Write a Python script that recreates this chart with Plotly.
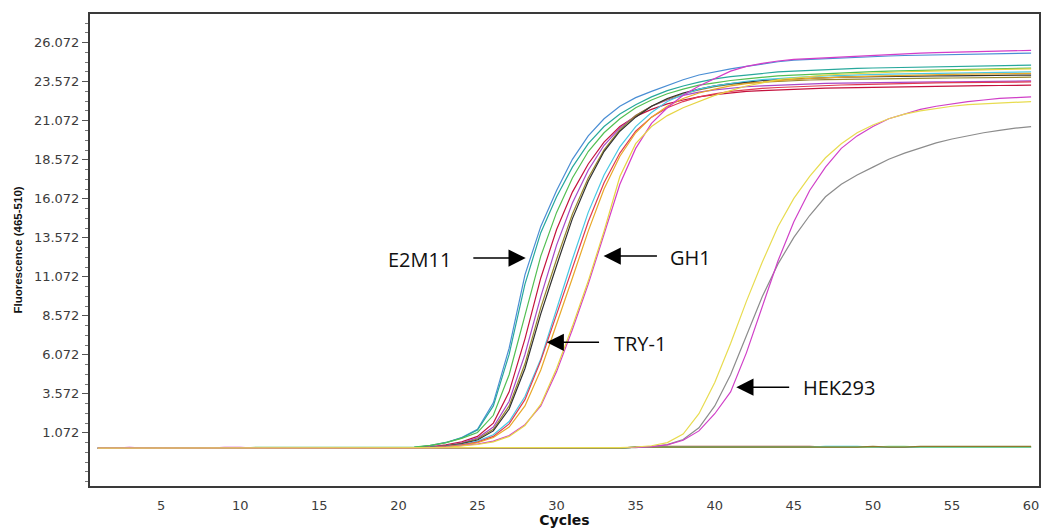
import plotly.graph_objects as go

# Amplification data: fluorescence (465-510) per cycle, cycles 1..60
cycles = list(range(1, 61))

y_tick_values = [1.072, 3.572, 6.072, 8.572, 11.072, 13.572, 16.072, 18.572, 21.072, 23.572, 26.072]
y_tick_labels = ["1.072", "3.572", "6.072", "8.572", "11.072", "13.572", "16.072", "18.572", "21.072", "23.572", "26.072"]
x_tick_values = [5, 10, 15, 20, 25, 30, 35, 40, 45, 50, 55, 60]

# no-template control wells (flat)
ntc_red = [0.1, 0.1, 0.1, 0.1, 0.1, 0.1, 0.1, 0.1, 0.1, 0.1,
           0.1, 0.1, 0.1, 0.1, 0.1, 0.1, 0.1, 0.1, 0.1, 0.1,
           0.1, 0.1, 0.1, 0.1, 0.1, 0.1, 0.1, 0.1, 0.1, 0.1,
           0.1, 0.1, 0.1, 0.1, 0.16, 0.16, 0.21, 0.21, 0.21, 0.21,
           0.21, 0.21, 0.21, 0.21, 0.21, 0.21, 0.16, 0.16, 0.16, 0.16,
           0.16, 0.16, 0.16, 0.16, 0.16, 0.16, 0.16, 0.16, 0.16, 0.16]
ntc_cyan = [0.1, 0.1, 0.1, 0.1, 0.1, 0.1, 0.1, 0.1, 0.1, 0.1,
            0.1, 0.1, 0.1, 0.1, 0.1, 0.1, 0.1, 0.1, 0.1, 0.1,
            0.1, 0.1, 0.1, 0.1, 0.1, 0.1, 0.1, 0.1, 0.1, 0.1,
            0.1, 0.1, 0.1, 0.1, 0.16, 0.16, 0.16, 0.16, 0.16, 0.16,
            0.16, 0.16, 0.16, 0.16, 0.16, 0.16, 0.21, 0.21, 0.21, 0.16,
            0.16, 0.16, 0.16, 0.16, 0.16, 0.16, 0.16, 0.16, 0.16, 0.16]
ntc_lightgreen = [0.1, 0.1, 0.1, 0.1, 0.1, 0.1, 0.1, 0.1, 0.1, 0.1,
                  0.1, 0.1, 0.1, 0.1, 0.1, 0.1, 0.1, 0.1, 0.1, 0.1,
                  0.1, 0.1, 0.1, 0.1, 0.1, 0.1, 0.1, 0.1, 0.1, 0.1,
                  0.1, 0.1, 0.1, 0.1, 0.16, 0.16, 0.16, 0.16, 0.16, 0.16,
                  0.16, 0.16, 0.16, 0.16, 0.16, 0.16, 0.16, 0.16, 0.16, 0.16,
                  0.21, 0.21, 0.16, 0.16, 0.16, 0.16, 0.16, 0.16, 0.16, 0.16]
ntc_olive = [0.1, 0.1, 0.1, 0.1, 0.1, 0.1, 0.1, 0.1, 0.1, 0.1,
             0.1, 0.1, 0.1, 0.1, 0.1, 0.1, 0.1, 0.1, 0.1, 0.1,
             0.1, 0.1, 0.1, 0.1, 0.1, 0.1, 0.1, 0.1, 0.1, 0.1,
             0.1, 0.1, 0.1, 0.1, 0.16, 0.16, 0.16, 0.16, 0.16, 0.16,
             0.16, 0.16, 0.16, 0.16, 0.16, 0.16, 0.16, 0.16, 0.16, 0.21,
             0.16, 0.16, 0.21, 0.21, 0.21, 0.21, 0.21, 0.21, 0.21, 0.21]

# amplifying samples
e2m11_blue = [0.1, 0.1, 0.1, 0.1, 0.1, 0.1, 0.1, 0.1, 0.1, 0.1,
              0.1, 0.1, 0.1, 0.1, 0.1, 0.1, 0.1, 0.1, 0.1, 0.1,
              0.14, 0.26, 0.46, 0.78, 1.3, 3.0, 6.5, 11.2, 14.3, 16.6,
              18.6, 20.1, 21.2, 22.0, 22.55, 22.95, 23.35, 23.7, 24.0, 24.2,
              24.4, 24.55, 24.7, 24.85, 24.95, 25.0, 25.05, 25.1, 25.15, 25.2,
              25.22, 25.25, 25.27, 25.3, 25.32, 25.34, 25.35, 25.37, 25.38, 25.4]
e2m11_teal = [0.1, 0.1, 0.1, 0.1, 0.1, 0.1, 0.1, 0.1, 0.1, 0.1,
              0.1, 0.1, 0.1, 0.1, 0.1, 0.1, 0.1, 0.1, 0.1, 0.1,
              0.14, 0.25, 0.44, 0.75, 1.25, 2.8, 6.1, 10.6, 13.9, 16.2,
              18.1, 19.6, 20.7, 21.5, 22.1, 22.6, 23.0, 23.3, 23.55, 23.75,
              23.9, 24.0, 24.1, 24.2, 24.25, 24.3, 24.35, 24.4, 24.42, 24.45,
              24.47, 24.5, 24.52, 24.54, 24.56, 24.58, 24.6, 24.61, 24.62, 24.63]
s_green = [0.1, 0.1, 0.1, 0.1, 0.1, 0.1, 0.1, 0.1, 0.1, 0.1,
           0.15, 0.15, 0.15, 0.15, 0.15, 0.15, 0.15, 0.15, 0.15, 0.15,
           0.16, 0.27, 0.45, 0.72, 1.1, 2.2, 4.8, 8.6, 12.4, 15.2,
           17.4, 19.1, 20.3, 21.2, 21.9, 22.4, 22.8, 23.1, 23.35, 23.5,
           23.65, 23.75, 23.85, 23.95, 24.0, 24.05, 24.1, 24.15, 24.2, 24.22,
           24.25, 24.28, 24.3, 24.32, 24.34, 24.36, 24.38, 24.4, 24.42, 24.44]
s_crimson = [0.1, 0.1, 0.1, 0.1, 0.1, 0.1, 0.1, 0.1, 0.1, 0.1,
             0.1, 0.1, 0.1, 0.1, 0.1, 0.1, 0.1, 0.1, 0.1, 0.1,
             0.12, 0.18, 0.3, 0.5, 0.85, 1.7, 3.7, 7.1, 11.0, 14.1,
             16.5, 18.3, 19.7, 20.7, 21.35, 21.8, 22.15, 22.4, 22.6, 22.75,
             22.85, 22.95, 23.0, 23.05, 23.1, 23.13, 23.16, 23.18, 23.2, 23.22,
             23.24, 23.26, 23.27, 23.28, 23.3, 23.31, 23.32, 23.33, 23.34, 23.35]
s_purple = [0.1, 0.1, 0.1, 0.1, 0.1, 0.1, 0.1, 0.1, 0.1, 0.1,
            0.1, 0.1, 0.1, 0.1, 0.1, 0.1, 0.1, 0.1, 0.1, 0.1,
            0.11, 0.16, 0.26, 0.43, 0.75, 1.45, 3.1, 6.1, 9.8, 13.1,
            15.8, 17.9, 19.5, 20.6, 21.4, 22.0, 22.4, 22.7, 22.9, 23.05,
            23.15, 23.25, 23.3, 23.35, 23.4, 23.43, 23.46, 23.48, 23.5, 23.52,
            23.53, 23.54, 23.55, 23.56, 23.57, 23.58, 23.59, 23.6, 23.61, 23.62]
s_olive = [0.1, 0.1, 0.1, 0.1, 0.1, 0.1, 0.1, 0.1, 0.1, 0.1,
           0.1, 0.1, 0.1, 0.1, 0.1, 0.1, 0.1, 0.1, 0.1, 0.1,
           0.11, 0.15, 0.24, 0.4, 0.68, 1.3, 2.8, 5.5, 9.1, 12.2,
           15.1, 17.4, 19.2, 20.5, 21.4, 22.0, 22.45, 22.8, 23.05, 23.25,
           23.4, 23.5, 23.55, 23.6, 23.65, 23.68, 23.7, 23.72, 23.74, 23.76,
           23.77, 23.78, 23.79, 23.8, 23.81, 23.82, 23.83, 23.84, 23.85, 23.86]
s_dark = [0.1, 0.1, 0.1, 0.1, 0.1, 0.1, 0.1, 0.1, 0.1, 0.1,
          0.1, 0.1, 0.1, 0.1, 0.1, 0.1, 0.1, 0.1, 0.1, 0.1,
          0.11, 0.15, 0.23, 0.37, 0.62, 1.2, 2.6, 5.2, 8.7, 11.8,
          14.8, 17.2, 19.1, 20.4, 21.3, 22.0, 22.5, 22.85, 23.1, 23.3,
          23.45, 23.55, 23.65, 23.7, 23.75, 23.8, 23.83, 23.86, 23.88, 23.9,
          23.91, 23.92, 23.93, 23.94, 23.95, 23.96, 23.97, 23.98, 23.99, 24.0]
try1_cyan = [0.1, 0.1, 0.1, 0.1, 0.1, 0.1, 0.1, 0.1, 0.1, 0.1,
             0.1, 0.1, 0.1, 0.1, 0.1, 0.1, 0.1, 0.1, 0.1, 0.1,
             0.11, 0.14, 0.21, 0.33, 0.55, 0.95, 1.8, 3.4, 5.8, 9.0,
             12.2, 15.2, 17.6, 19.4, 20.7, 21.6, 22.3, 22.75, 23.1, 23.3,
             23.45, 23.6, 23.7, 23.78, 23.85, 23.9, 23.94, 23.98, 24.01, 24.04,
             24.06, 24.08, 24.1, 24.12, 24.14, 24.15, 24.16, 24.17, 24.18, 24.2]
s_red = [0.1, 0.1, 0.1, 0.1, 0.1, 0.1, 0.1, 0.1, 0.1, 0.1,
         0.1, 0.1, 0.1, 0.1, 0.1, 0.1, 0.1, 0.1, 0.1, 0.1,
         0.1, 0.13, 0.19, 0.3, 0.48, 0.85, 1.65, 3.2, 5.7, 8.7,
         11.7, 14.6, 17.1, 19.0, 20.4, 21.3, 21.9, 22.3, 22.6, 22.8,
         22.95, 23.05, 23.15, 23.2, 23.25, 23.3, 23.33, 23.36, 23.39, 23.42,
         23.44, 23.46, 23.48, 23.5, 23.51, 23.52, 23.53, 23.54, 23.55, 23.56]
s_orange = [0.1, 0.1, 0.1, 0.1, 0.1, 0.1, 0.1, 0.1, 0.1, 0.1,
            0.1, 0.1, 0.1, 0.1, 0.1, 0.1, 0.1, 0.1, 0.1, 0.1,
            0.1, 0.12, 0.18, 0.28, 0.44, 0.78, 1.45, 2.8, 5.1, 8.0,
            11.0, 14.0, 16.7, 18.8, 20.3, 21.3, 22.0, 22.5, 22.85, 23.1,
            23.3, 23.45, 23.55, 23.65, 23.72, 23.78, 23.83, 23.87, 23.9, 23.93,
            23.96, 23.98, 24.0, 24.02, 24.04, 24.06, 24.07, 24.08, 24.09, 24.1]
gh1_magenta = [0.1, 0.1, 0.15, 0.1, 0.1, 0.1, 0.1, 0.1, 0.15, 0.15,
               0.1, 0.1, 0.1, 0.1, 0.1, 0.1, 0.1, 0.1, 0.1, 0.1,
               0.1, 0.12, 0.16, 0.24, 0.36, 0.55, 0.9, 1.6, 2.8, 5.0,
               7.7, 10.6, 13.8, 17.0, 19.3, 20.9, 21.9, 22.7, 23.3, 23.8,
               24.25, 24.55, 24.75, 24.9, 25.0, 25.05, 25.1, 25.15, 25.2, 25.28,
               25.32, 25.36, 25.4, 25.43, 25.46, 25.49, 25.52, 25.54, 25.56, 25.58]
gh1_yellow = [0.1, 0.1, 0.1, 0.1, 0.1, 0.1, 0.1, 0.1, 0.1, 0.1,
              0.1, 0.1, 0.1, 0.1, 0.1, 0.1, 0.1, 0.1, 0.1, 0.1,
              0.1, 0.11, 0.15, 0.22, 0.33, 0.5, 0.85, 1.55, 2.9, 5.2,
              7.9, 10.8, 14.0, 17.5, 19.6, 20.7, 21.4, 21.9, 22.3, 22.7,
              23.0, 23.3, 23.5, 23.7, 23.8, 23.9, 24.0, 24.05, 24.1, 24.15,
              24.18, 24.21, 24.24, 24.27, 24.3, 24.32, 24.34, 24.36, 24.38, 24.4]
hek_gray = [0.1, 0.1, 0.1, 0.1, 0.1, 0.1, 0.1, 0.1, 0.1, 0.1,
            0.1, 0.1, 0.1, 0.1, 0.1, 0.1, 0.1, 0.1, 0.1, 0.1,
            0.1, 0.1, 0.1, 0.1, 0.1, 0.1, 0.1, 0.1, 0.1, 0.1,
            0.1, 0.1, 0.1, 0.11, 0.13, 0.2, 0.32, 0.65, 1.4, 2.8,
            4.8, 7.3, 9.8, 11.9, 13.6, 15.0, 16.2, 17.0, 17.6, 18.1,
            18.6, 19.0, 19.35, 19.65, 19.9, 20.1, 20.3, 20.45, 20.6, 20.7]
hek_magenta = [0.1, 0.1, 0.1, 0.1, 0.1, 0.1, 0.1, 0.1, 0.1, 0.1,
               0.1, 0.1, 0.1, 0.1, 0.1, 0.1, 0.1, 0.1, 0.1, 0.1,
               0.1, 0.1, 0.1, 0.1, 0.1, 0.1, 0.1, 0.1, 0.1, 0.1,
               0.1, 0.1, 0.1, 0.11, 0.14, 0.19, 0.3, 0.6, 1.2, 2.3,
               3.7, 6.2, 9.2, 12.1, 14.6, 16.6, 18.1, 19.3, 20.1, 20.7,
               21.2, 21.5, 21.8, 22.0, 22.15, 22.3, 22.4, 22.5, 22.55, 22.6]
hek_yellow = [0.1, 0.1, 0.1, 0.1, 0.1, 0.1, 0.1, 0.1, 0.1, 0.1,
              0.1, 0.1, 0.1, 0.1, 0.1, 0.1, 0.1, 0.1, 0.1, 0.1,
              0.1, 0.1, 0.1, 0.1, 0.1, 0.1, 0.1, 0.1, 0.1, 0.1,
              0.1, 0.1, 0.1, 0.13, 0.17, 0.25, 0.45, 1.0, 2.3, 4.3,
              6.8, 9.5, 12.0, 14.3, 16.1, 17.5, 18.7, 19.6, 20.3, 20.8,
              21.2, 21.5, 21.7, 21.85, 22.0, 22.1, 22.15, 22.2, 22.25, 22.3]

# drawing order: controls underneath, samples on top
traces = [
    (ntc_red, "#a8432e"), (ntc_cyan, "#3cc4d2"), (ntc_lightgreen, "#7ad88e"), (ntc_olive, "#8c7a2c"),
    (e2m11_blue, "#4a8ed4"), (e2m11_teal, "#27a89c"), (s_crimson, "#c4123e"),
    (s_purple, "#a848c8"), (s_olive, "#98882e"), (s_dark, "#303030"), (try1_cyan, "#48c8e4"),
    (s_red, "#e03a52"), (s_orange, "#e8a828"), (s_green, "#52bf52"),
    (gh1_magenta, "#d43cc8"), (gh1_yellow, "#e6d444"),
    (hek_gray, "#8c8c8c"), (hek_magenta, "#d040c8"), (hek_yellow, "#e8dc50"),
]

fig = go.Figure()
for values, color in traces:
    fig.add_trace(go.Scatter(
        x=cycles, y=values, mode="lines",
        line=dict(color=color, width=1.2, shape="linear"),
        hoverinfo="skip", showlegend=False,
    ))

# labels with arrows pointing at the curve groups
labels = [
    # text, text x, text y, arrow tail x, arrow tip x, arrow y
    ("E2M11", 21.36, 12.2, 24.64, 28.05, 12.27),
    ("GH1", 38.45, 12.33, 36.44, 32.97, 12.4),
    ("TRY-1", 35.3, 6.82, 32.78, 29.37, 6.88),
    ("HEK293", 47.85, 4.0, 44.8, 41.36, 4.0),
]
for text, tx, ty, tail_x, tip_x, ay in labels:
    fig.add_annotation(
        x=tip_x, y=ay, ax=tail_x, ay=ay, xref="x", yref="y", axref="x", ayref="y",
        text="", showarrow=True, arrowhead=2, arrowsize=2.3, arrowwidth=1.5,
        arrowcolor="#000000", standoff=0, startstandoff=0,
    )
    fig.add_annotation(
        x=tx, y=ty, xref="x", yref="y", text=text, showarrow=False,
        font=dict(family="Open Sans, Lato, sans-serif", size=20, color="#111111"),
    )

axis_font = dict(family="DejaVu Sans, Liberation Sans, Arial, sans-serif", size=13, color="#3c3c3c")

fig.update_xaxes(
    range=[0.5, 60.5], tickmode="array", tickvals=x_tick_values,
    ticks="", showgrid=False, zeroline=False,
    showline=True, mirror=True, linecolor="#3a3a3a", linewidth=2,
    tickfont=axis_font, ticklabelstandoff=6,
    title=dict(text="<b>Cycles</b>", standoff=2,
               font=dict(family="DejaVu Sans, Liberation Sans, Arial, sans-serif", size=14, color="#111111")),
)
fig.update_yaxes(
    range=[-2.33, 27.91], tickmode="array", tickvals=y_tick_values, ticktext=y_tick_labels,
    ticks="outside", ticklen=6, tickcolor="#555555", tickwidth=1,
    minor=dict(tick0=1.072, dtick=0.625, ticks="outside", ticklen=3, tickcolor="#777777", tickwidth=1, showgrid=False),
    showgrid=False, zeroline=False,
    showline=True, mirror=True, linecolor="#3a3a3a", linewidth=2,
    tickfont=axis_font,
    title=dict(text="<b>Fluorescence (465-510)</b>", standoff=9,
               font=dict(family="Liberation Sans, Arial, sans-serif", size=11.5, color="#111111")),
)

fig.update_layout(
    width=1045, height=528,
    margin=dict(l=90, r=4, t=14, b=42),
    paper_bgcolor="white", plot_bgcolor="white",
    showlegend=False,
)

fig.write_html("out.html")
